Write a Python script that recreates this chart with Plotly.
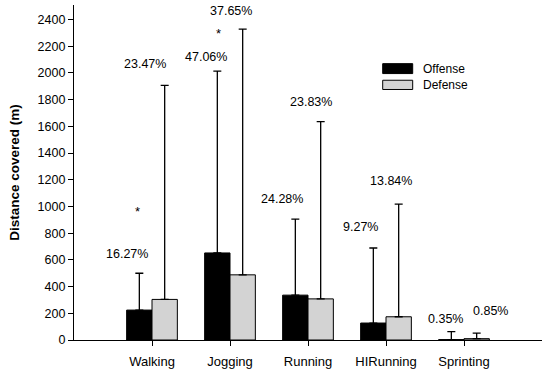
import plotly.graph_objects as go

categories = ["Walking", "Jogging", "Running", "HIRunning", "Sprinting"]
offense_mean = [224, 652, 336, 127, 3]
offense_err = [276, 1362, 570, 562, 59]
defense_mean = [304, 488, 308, 174, 10]
defense_err = [1603, 1840, 1328, 844, 42]
offense_pct = ["16.27%", "47.06%", "24.28%", "9.27%", "0.35%"]
defense_pct = ["23.47%", "37.65%", "23.83%", "13.84%", "0.85%"]
y_ticks = [0, 200, 400, 600, 800, 1000, 1200, 1400, 1600, 1800, 2000, 2200, 2400]

# label placement offsets (pixels)
off_dx = [-25, -24, -26, -26, -19]
off_dy = [19, 14, 20, 21, 13]
def_dx = [-7, 1, 3, 5, 26]
def_dy = [21, 18, 20, 23, 22]

FONT = "Liberation Sans, Arial, sans-serif"

fig = go.Figure()
fig.add_trace(go.Bar(
    x=categories, y=offense_mean, name="Offense",
    marker=dict(color="black", line=dict(color="black", width=1)),
    error_y=dict(type="data", array=offense_err, symmetric=False,
                 arrayminus=[0] * 5, color="black", thickness=1.3, width=4),
))
fig.add_trace(go.Bar(
    x=categories, y=defense_mean, name="Defense",
    marker=dict(color="#d3d3d3", line=dict(color="black", width=1)),
    error_y=dict(type="data", array=defense_err, symmetric=False,
                 arrayminus=[0] * 5, color="black", thickness=1.3, width=4),
))

annotations = []
for i, c in enumerate(categories):
    annotations.append(dict(x=c, y=offense_mean[i] + offense_err[i], text=offense_pct[i],
                            xshift=off_dx[i], yshift=off_dy[i], showarrow=False,
                            font=dict(size=12.5, color="black", family=FONT)))
    annotations.append(dict(x=c, y=defense_mean[i] + defense_err[i], text=defense_pct[i],
                            xshift=def_dx[i], yshift=def_dy[i], showarrow=False,
                            font=dict(size=12.5, color="black", family=FONT)))
# significance markers
annotations.append(dict(x="Walking", y=960, text="*", xshift=-15, showarrow=False,
                        font=dict(size=13, color="black", family=FONT)))
annotations.append(dict(x="Jogging", y=2293, text="*", xshift=-12, showarrow=False,
                        font=dict(size=13, color="black", family=FONT)))

# manual legend
shapes = [
    dict(type="rect", xref="paper", yref="paper", x0=0.6596, x1=0.7237, y0=0.7953, y1=0.8249,
         fillcolor="black", line=dict(color="black", width=1)),
    dict(type="rect", xref="paper", yref="paper", x0=0.6596, x1=0.7237, y0=0.7478, y1=0.7754,
         fillcolor="#d3d3d3", line=dict(color="black", width=1)),
]
annotations.append(dict(xref="paper", yref="paper", x=0.7415, y=0.8101, text="Offense",
                        xanchor="left", yanchor="middle", showarrow=False,
                        font=dict(size=12, color="black", family=FONT)))
annotations.append(dict(xref="paper", yref="paper", x=0.7415, y=0.7617, text="Defense",
                        xanchor="left", yanchor="middle", showarrow=False,
                        font=dict(size=12, color="black", family=FONT)))

fig.update_layout(
    width=550, height=374,
    margin=dict(l=74, r=8, t=5, b=32),
    paper_bgcolor="white", plot_bgcolor="white",
    barmode="group", bargap=0.35, bargroupgap=0,
    showlegend=False,
    font=dict(family=FONT, size=12, color="black"),
    annotations=annotations, shapes=shapes,
    xaxis=dict(type="category", range=[-1, 5], showline=True, linecolor="black", linewidth=1.3,
               ticks="outside", ticklen=5, tickcolor="black", showgrid=False,
               ticklabelstandoff=4,
               tickfont=dict(size=13, family=FONT, color="black")),
    yaxis=dict(range=[0, 2509], tickvals=y_ticks, showline=True, linecolor="black", linewidth=1.3,
               ticks="outside", ticklen=5, tickcolor="black", showgrid=False, zeroline=False,
               tickfont=dict(size=12.5, family=FONT, color="black"),
               title=dict(text="<b>Distance covered (m)</b>", font=dict(size=13.5, family=FONT, color="black"),
                          standoff=14)),
)

fig.write_html("out.html", config={"displayModeBar": False},
               post_script="document.body.style.margin='0px';")
